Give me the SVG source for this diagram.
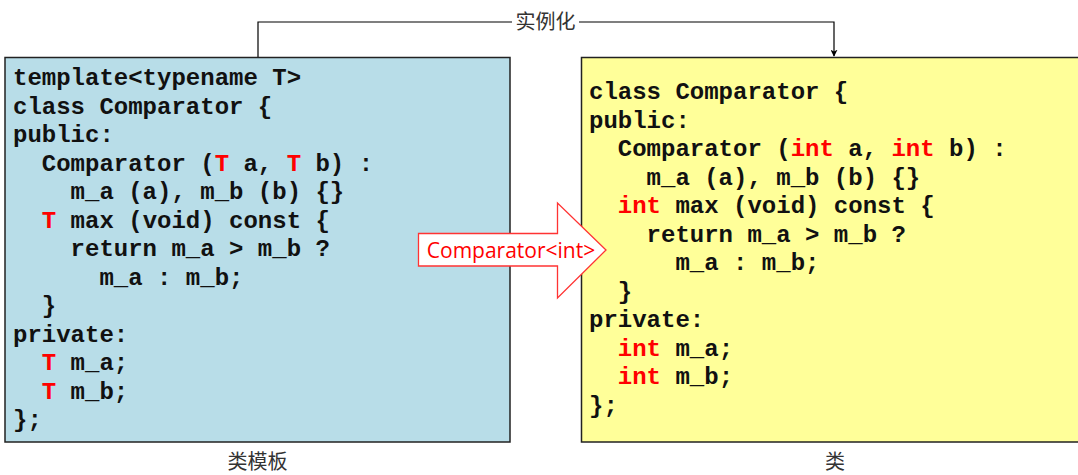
<svg xmlns="http://www.w3.org/2000/svg" width="1078" height="475" viewBox="0 0 1078 475">
  <style>
    .box { stroke: #222; stroke-width: 1.5; }
    .code { font-family: "Liberation Mono", "Courier New", monospace; font-size: 24px; font-weight: bold; fill: #111; white-space: pre; }
    .red { fill: #ff0000; }
    .lbl { font-family: "Noto Sans CJK SC", "Noto Sans", sans-serif; font-size: 20px; fill: #333; text-anchor: middle; }
    .conn { stroke: #000; stroke-width: 1.2; fill: none; }
  </style>
  <defs>
    <marker id="arr" viewBox="0 0 10 10" refX="9" refY="5" markerWidth="7" markerHeight="7" orient="auto" markerUnits="userSpaceOnUse">
      <path d="M0,0 L10,5 L0,10 L2.5,5 z" fill="#000"/>
    </marker>
  </defs>
  <rect width="1078" height="475" fill="#fff"/>

  <g id="connectors">
    <path class="conn" d="M258,57 V22 H834 V56" marker-end="url(#arr)"/>
    <rect x="512" y="10" width="67" height="24" fill="#fff"/>
    <text class="lbl" x="545.5" y="29">实例化</text>
  </g>

  <g id="template">
    <rect class="box" x="5" y="57.5" width="505" height="384.5" fill="#b8dde8"/>
    <text class="code" xml:space="preserve">
      <tspan x="13" y="85">template&lt;typename T&gt;</tspan>
      <tspan x="13" y="113.5">class Comparator {</tspan>
      <tspan x="13" y="142">public:</tspan>
      <tspan x="13" y="170.5">  Comparator (<tspan class="red">T</tspan> a, <tspan class="red">T</tspan> b) :</tspan>
      <tspan x="13" y="199">    m_a (a), m_b (b) {}</tspan>
      <tspan x="13" y="227.5">  <tspan class="red">T</tspan> max (void) const {</tspan>
      <tspan x="13" y="256">    return m_a &gt; m_b ?</tspan>
      <tspan x="13" y="284.5">      m_a : m_b;</tspan>
      <tspan x="13" y="313">  }</tspan>
      <tspan x="13" y="341.5">private:</tspan>
      <tspan x="13" y="370">  <tspan class="red">T</tspan> m_a;</tspan>
      <tspan x="13" y="398.5">  <tspan class="red">T</tspan> m_b;</tspan>
      <tspan x="13" y="427">};</tspan>
    </text>
  </g>

  <g id="class">
    <rect class="box" x="581.5" y="57.5" width="510" height="384.5" fill="#ffff99"/>
    <text class="code" xml:space="preserve">
      <tspan x="589" y="99">class Comparator {</tspan>
      <tspan x="589" y="127.5">public:</tspan>
      <tspan x="589" y="156">  Comparator (<tspan class="red">int</tspan> a, <tspan class="red">int</tspan> b) :</tspan>
      <tspan x="589" y="184.5">    m_a (a), m_b (b) {}</tspan>
      <tspan x="589" y="213">  <tspan class="red">int</tspan> max (void) const {</tspan>
      <tspan x="589" y="241.5">    return m_a &gt; m_b ?</tspan>
      <tspan x="589" y="270">      m_a : m_b;</tspan>
      <tspan x="589" y="298.5">  }</tspan>
      <tspan x="589" y="327">private:</tspan>
      <tspan x="589" y="355.5">  <tspan class="red">int</tspan> m_a;</tspan>
      <tspan x="589" y="384">  <tspan class="red">int</tspan> m_b;</tspan>
      <tspan x="589" y="412.5">};</tspan>
    </text>
  </g>

  <g id="instantiate-arrow">
    <path d="M418.5,233.5 H557.5 V203 L606,250 L557.5,298 V266 H418.5 Z" fill="#fff" stroke="#ff3333" stroke-width="1.3"/>
    <text x="511" y="257.5" font-family="'Open Sans', 'Noto Sans', sans-serif" font-size="21" fill="#ff0000" text-anchor="middle">Comparator&lt;int&gt;</text>
  </g>

  <g id="labels">
    <text class="lbl" x="257.5" y="469" font-size="19">类模板</text>
    <text class="lbl" x="835" y="469" font-size="19">类</text>
  </g>
</svg>
